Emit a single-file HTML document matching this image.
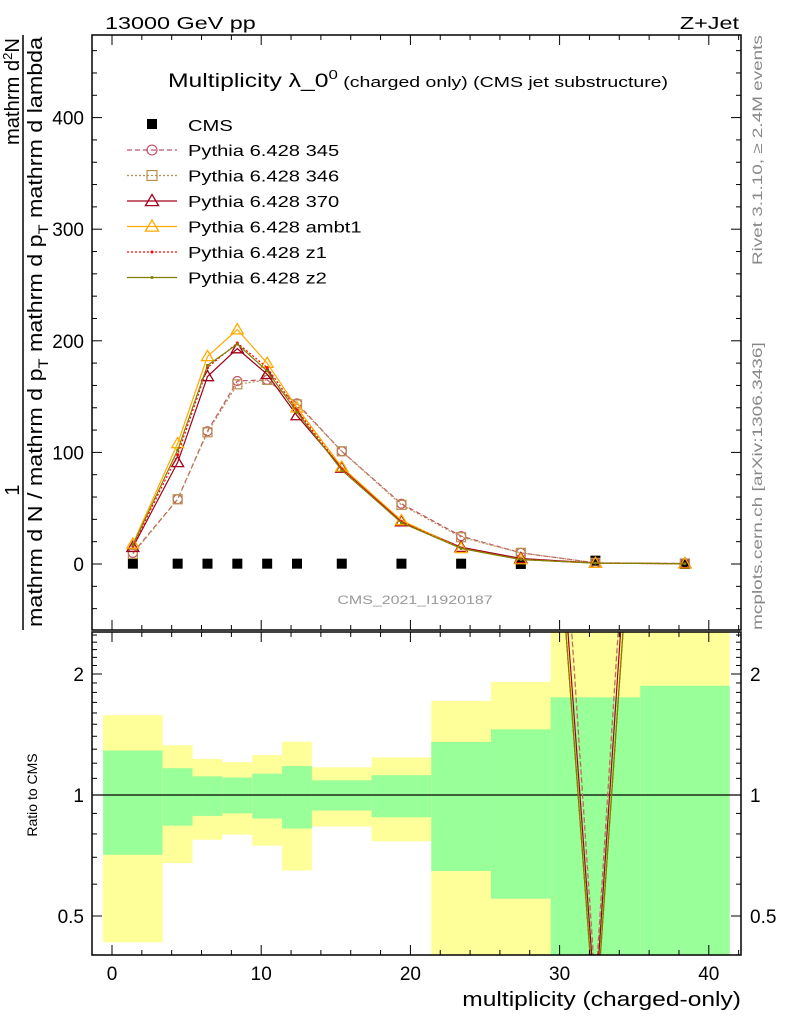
<!DOCTYPE html>
<html><head><meta charset="utf-8"><style>
html,body{margin:0;padding:0;background:#fff;overflow:hidden}
svg{display:block;font-family:"Liberation Sans",sans-serif}
</style></head><body>
<svg id="chart" width="786" height="1024" viewBox="0 0 786 1024" xmlns="http://www.w3.org/2000/svg">
<defs>
<clipPath id="cm"><rect x="92" y="35" width="649" height="595"/></clipPath>
<clipPath id="cr"><rect x="92" y="632" width="649" height="323"/></clipPath>
</defs>
<g id="bands" clip-path="url(#cr)"></g>
<g id="ratio" clip-path="url(#cr)"></g>
<g id="main" clip-path="url(#cm)"></g>
<g id="axes"></g>
<text x="105" y="29" font-size="18" data-s="1.3" data-ax="105">13000 GeV pp</text>
<text x="739" y="29" font-size="18" text-anchor="end" data-s="1.3" data-ax="739">Z+Jet</text>
<text x="418" y="87" font-size="19" text-anchor="middle" data-s="1.3" data-ax="418">Multiplicity λ_0<tspan dy="-8" font-size="13">0</tspan><tspan dy="8" font-size="15"> (charged only) (CMS jet substructure)</tspan></text>
<text x="415" y="604" font-size="12" fill="#999" text-anchor="middle" data-s="1.33" data-ax="415">CMS_2021_I1920187</text>
<text transform="translate(762,265) rotate(-90)" font-size="14" fill="#888" data-s="1.35" data-ax="0">Rivet 3.1.10, ≥ 2.4M events</text>
<text transform="translate(762,630) rotate(-90)" font-size="14" fill="#888" data-s="1.36" data-ax="0">mcplots.cern.ch [arXiv:1306.3436]</text>
<g font-size="20">
<text transform="translate(19,490) rotate(-90)" text-anchor="middle">1</text>
<line x1="23" y1="630" x2="23" y2="35" stroke="#000" stroke-width="1.5"/>
<text transform="translate(42,627) rotate(-90)" textLength="590" lengthAdjust="spacingAndGlyphs">mathrm d N / mathrm d p<tspan dy="6" font-size="14">T</tspan><tspan dy="-6"> mathrm d p</tspan><tspan dy="6" font-size="14">T</tspan><tspan dy="-6"> mathrm d lambda</tspan></text>
<text transform="translate(19,145) rotate(-90)" textLength="107" lengthAdjust="spacingAndGlyphs">mathrm d<tspan dy="-7" font-size="13">2</tspan><tspan dy="7">N</tspan></text>
</g>
<text transform="translate(37,795) rotate(-90)" font-size="14" text-anchor="middle">Ratio to CMS</text>
<text x="741" y="1006" font-size="20" text-anchor="end" data-s="1.23" data-ax="741">multiplicity (charged-only)</text>
<g id="legend"></g>
</svg>
<script>
const edges=[-0.6,3.4,5.4,7.4,9.4,11.4,13.4,17.4,21.4,25.4,29.4,35.4,41.4];
const centers=[1.4,4.4,6.4,8.4,10.4,12.4,15.4,19.4,23.4,27.4,32.4,38.4];
const cms=[0.3,0.3,0.3,0.3,0.3,0.3,0.3,0.3,0.3,0.05,3,0.0005];
const s345=[10,58,119,164,165,144,101,54,25,10,1,0.5];
const s346=[9,58,118,161,165,143,101,53,24,10,1,0.5];
const s370=[15,91,168,193,170,133,86,38,15,5,0.9,0.3];
const sAmbt1=[18,108,186,210,180,140,87,39,14,4,0.8,0.2];
const sZ1=[16,98,176,198,176,138,85,38,14,4,0.8,0.2];
const sZ2=[17,102,178,197,173,136,84,37,14,4,0.8,0.2];
const yellowHi=[1.58,1.33,1.23,1.207,1.257,1.357,1.172,1.24,1.715,1.91,3,3];
const greenHi=[1.29,1.166,1.113,1.105,1.13,1.18,1.088,1.12,1.355,1.457,1.75,1.87];
const greenLo=[0.71,0.839,0.887,0.9,0.874,0.825,0.915,0.88,0.647,0.552,0.3,0.3];
const yellowLo=[0.43,0.677,0.774,0.797,0.748,0.649,0.835,0.767,0.3,0.3,0.3,0.3];
const xTicks=[0,10,20,30,40];
const yTicks=[0,100,200,300,400];
const rTicks=[0.5,1,2];

const NS="http://www.w3.org/2000/svg";
const X=v=>112+14.92*v, Y=v=>564-1.116*v, R=r=>795-121*Math.log2(r);
function mk(p,tag,at){const e=document.createElementNS(NS,tag);for(const k in at)e.setAttribute(k,at[k]);p.appendChild(e);return e;}
const bands=document.getElementById('bands'),ratio=document.getElementById('ratio'),main=document.getElementById('main'),axes=document.getElementById('axes'),legend=document.getElementById('legend');

for(let i=0;i<centers.length;i++){
 const x0=X(edges[i]),x1=X(edges[i+1]);
 let e=mk(bands,'rect',{x:x0,y:R(yellowHi[i]),width:x1-x0,height:R(yellowLo[i])-R(yellowHi[i]),fill:'#ffff99'});
 
 
 e=mk(bands,'rect',{x:x0,y:R(greenHi[i]),width:x1-x0,height:R(greenLo[i])-R(greenHi[i]),fill:'#99ff99'});
 
 
}
mk(ratio,'line',{x1:92,x2:741,y1:R(1),y2:R(1),stroke:'#000','stroke-width':1.3});

const series=[
 {n:'Pythia 6.428 345',d:s345,c:'#c0506a',dash:'5,3',m:'circle'},
 {n:'Pythia 6.428 346',d:s346,c:'#b8904c',dash:'2,2',m:'square'},
 {n:'Pythia 6.428 370',d:s370,c:'#a0001a',dash:'',m:'tri'},
 {n:'Pythia 6.428 ambt1',d:sAmbt1,c:'#ffaa00',dash:'',m:'tri'},
 {n:'Pythia 6.428 z1',d:sZ1,c:'#ff0000',dash:'2,2',m:'dot'},
 {n:'Pythia 6.428 z2',d:sZ2,c:'#808000',dash:'',m:'dot'}];
function marker(p,m,x,y,c,big){
 const s=big?1.1:1;
 if(m==='circle')return mk(p,'circle',{cx:x,cy:y,r:4.5*s,fill:'none',stroke:c,'stroke-width':1.2});
 if(m==='square')return mk(p,'rect',{x:x-4.5*s,y:y-4.5*s,width:9*s,height:9*s,fill:'none',stroke:c,'stroke-width':1.2});
 if(m==='tri'){const h=6*s;return mk(p,'polygon',{points:`${x},${y-h} ${x-h},${y+h*0.7} ${x+h},${y+h*0.7}`,fill:'none',stroke:c,'stroke-width':1.3});}
 return mk(p,'circle',{cx:x,cy:y,r:1.5,fill:c});
}
centers.forEach((c,i)=>{const e=mk(main,'rect',{x:X(c)-5,y:Y(cms[i])-5,width:10,height:10,fill:'#000'});
 
 });
series.forEach((s,k)=>{
 const pts=centers.map((c,i)=>X(c)+','+Y(s.d[i])).join(' ');
 let e=mk(main,'polyline',{points:pts,fill:'none',stroke:s.c,'stroke-width':1.2,'stroke-dasharray':s.dash});
 
 
 centers.forEach((c,i)=>{const q=marker(main,s.m,X(c),Y(s.d[i]),s.c);
  
  });
 const rp=centers.map((c,i)=>X(c)+','+Math.max(-3000,Math.min(3000,R(s.d[i]/cms[i])))).join(' ');
 e=mk(ratio,'polyline',{points:rp,fill:'none',stroke:s.c,'stroke-width':1.2,'stroke-dasharray':s.dash});
 
 
 const ly=150+k*25.5;
 e=mk(legend,'line',{x1:127,x2:177,y1:ly,y2:ly,stroke:s.c,'stroke-width':1.2,'stroke-dasharray':s.dash});
 
 
 marker(legend,s.m,152,ly,s.c,true);
 const t=mk(legend,'text',{x:188,y:ly+6,'font-size':16,'data-s':1.26,'data-ax':188});t.textContent=s.n;
 
 
});
mk(legend,'rect',{x:147,y:119,width:10,height:10,fill:'#000'});
let lt=mk(legend,'text',{x:188,y:131,'font-size':16,'data-s':1.26,'data-ax':188});lt.textContent='CMS';



mk(axes,'rect',{x:92,y:35,width:649,height:595,fill:'none',stroke:'#000','stroke-width':1.5});
mk(axes,'rect',{x:92,y:632,width:649,height:323,fill:'none',stroke:'#000','stroke-width':1.5});
for(let v=-1;v<=42;v++){
 if(v%2!==0&&v%10!==0)continue;
 const x=X(v),L=v%10===0?10:5;
 if(x<92||x>741)continue;
 [[35,1],[630,-1],[632,1],[955,-1]].forEach(([y,d])=>mk(axes,'line',{x1:x,x2:x,y1:y,y2:y+d*L,stroke:'#000'}));
}
xTicks.forEach(v=>{const t=mk(axes,'text',{x:X(v),y:980,'font-size':19,'text-anchor':'middle'});t.textContent=v;
 
 });
for(let v=-40;v<=460;v+=20){const y=Y(v),L=v%100===0?10:5;
 mk(axes,'line',{x1:92,x2:92+L,y1:y,y2:y,stroke:'#000'});mk(axes,'line',{x1:741,x2:741-L,y1:y,y2:y,stroke:'#000'});}
yTicks.forEach(v=>{const t=mk(axes,'text',{x:84,y:Y(v)+7,'font-size':19,'text-anchor':'end'});t.textContent=v;
 
 });
[0.4,0.5,0.6,0.7,0.8,0.9,1,1.1,1.2,1.3,1.4,1.5,1.6,1.7,1.8,1.9,2,2.1,2.2,2.3,2.4,2.5].forEach(r=>{
 const y=R(r);if(y<632||y>955)return;const L=rTicks.includes(r)?10:5;
 mk(axes,'line',{x1:92,x2:92+L,y1:y,y2:y,stroke:'#000'});mk(axes,'line',{x1:741,x2:741-L,y1:y,y2:y,stroke:'#000'});});
rTicks.forEach(r=>{let t=mk(axes,'text',{x:84,y:R(r)+7,'font-size':19,'text-anchor':'end'});t.textContent=r;
 
 
 t=mk(axes,'text',{x:750,y:R(r)+7,'font-size':19});t.textContent=r;
 
 });

document.querySelectorAll('[data-s]').forEach(t=>{
 const s=+t.getAttribute('data-s'),ax=+t.getAttribute('data-ax');
 const base=t.getAttribute('transform')||'';
 t.setAttribute('transform',base+` translate(${ax},0) scale(${s},1) translate(${-ax},0)`);
});
</script>
</body></html>
